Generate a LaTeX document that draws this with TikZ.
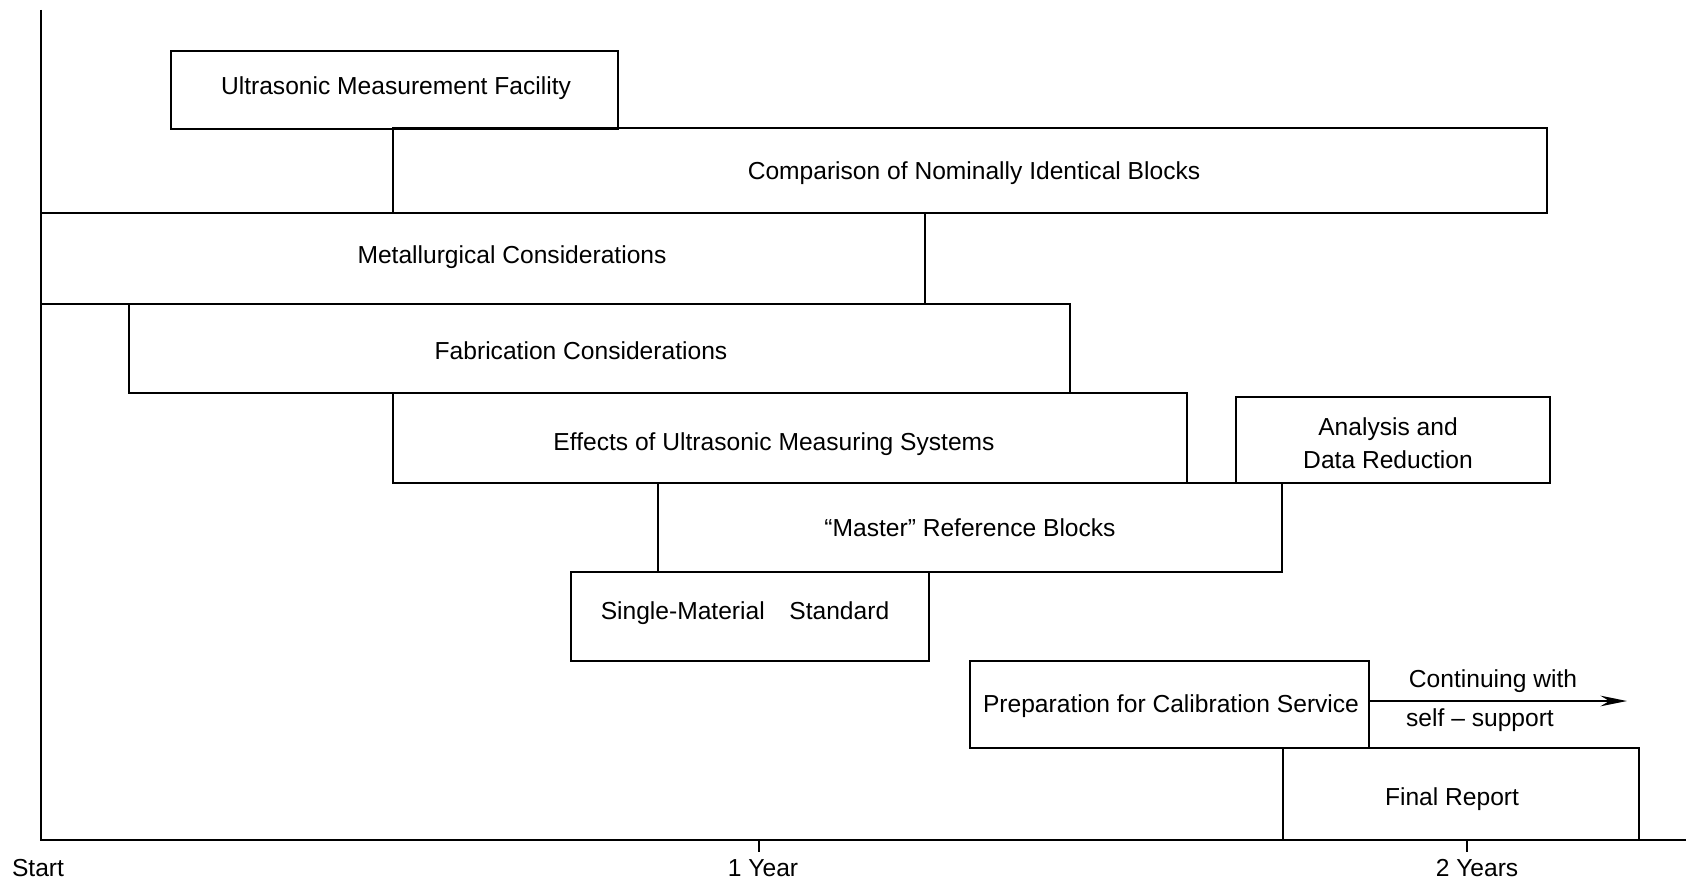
\documentclass[tikz,border=0pt]{standalone}
\usepackage{fontspec}
\setmainfont{Liberation Sans}
\usetikzlibrary{arrows.meta}

\begin{document}
\begin{tikzpicture}[x=0.02cm, y=-0.02cm, line width=1.6pt,
    box/.style={draw=black},
    lbl/.style={font=\fontsize{14}{19}\selectfont, inner sep=0pt, align=center}]
    \useasboundingbox (0,0) rectangle (1686,882);

    % TIME AXIS
    \draw (41,10) -- (41,840) -- (1686,840);
    \draw (759,840) -- (759,852);
    \draw (1467,840) -- (1467,852);
    \node[lbl] (start) at (38,868) {Start};
    \node[lbl] (year1) at (763,868) {1 Year};
    \node[lbl] (year2) at (1477,868) {2 Years};

    % TASK 1
    \draw[box] (171,51) rectangle (618,129);
    \node[lbl] (facility) at (396,88) {Ultrasonic Measurement Facility};
    % TASK 2
    \draw[box] (393,128) rectangle (1547,213);
    \node[lbl] (compare) at (974,173) {Comparison of Nominally Identical Blocks};
    % TASK 3
    \draw[box] (41,213) rectangle (925,304);
    \node[lbl] (metal) at (512,257) {Metallurgical Considerations};
    % TASK 4
    \draw[box] (129,304) rectangle (1070,393);
    \node[lbl] (fabric) at (581,351) {Fabrication Considerations};
    % TASK 5
    \draw[box] (393,393) rectangle (1187,483);
    \node[lbl] (effects) at (774,444) {Effects of Ultrasonic Measuring Systems};
    % TASK 6
    \draw[box] (1236,397) rectangle (1550,483);
    \node[lbl] (analysis) at (1388,443) {Analysis and\\Data Reduction};
    % TASK 7
    \draw[box] (658,483) rectangle (1282,572);
    \node[lbl] (master) at (970,528) {``Master'' Reference Blocks};
    % TASK 8
    \draw[box] (571,572) rectangle (929,661);
    \node[lbl] (single) at (745,613) {Single-Material\quad Standard};
    % TASK 9
    \draw[box] (970,661) rectangle (1369,748);
    \node[lbl] (prep) at (1171,706) {Preparation for Calibration Service};
    % TASK 10
    \draw[box] (1283,748) rectangle (1639,840);
    \node[lbl] (final) at (1452,799) {Final Report};

    % CONTINUATION
    \coordinate (prepE) at (1369,701);
    \coordinate (contEnd) at (1627,701);
    \draw[-{Stealth[length=15pt, width=6pt]}] (prepE) -- (contEnd);
    \node[lbl] (cont1) at (1493,681) {Continuing with};
    \node[lbl] (cont2) at (1480,720) {self -- support};
\end{tikzpicture}
\end{document}
